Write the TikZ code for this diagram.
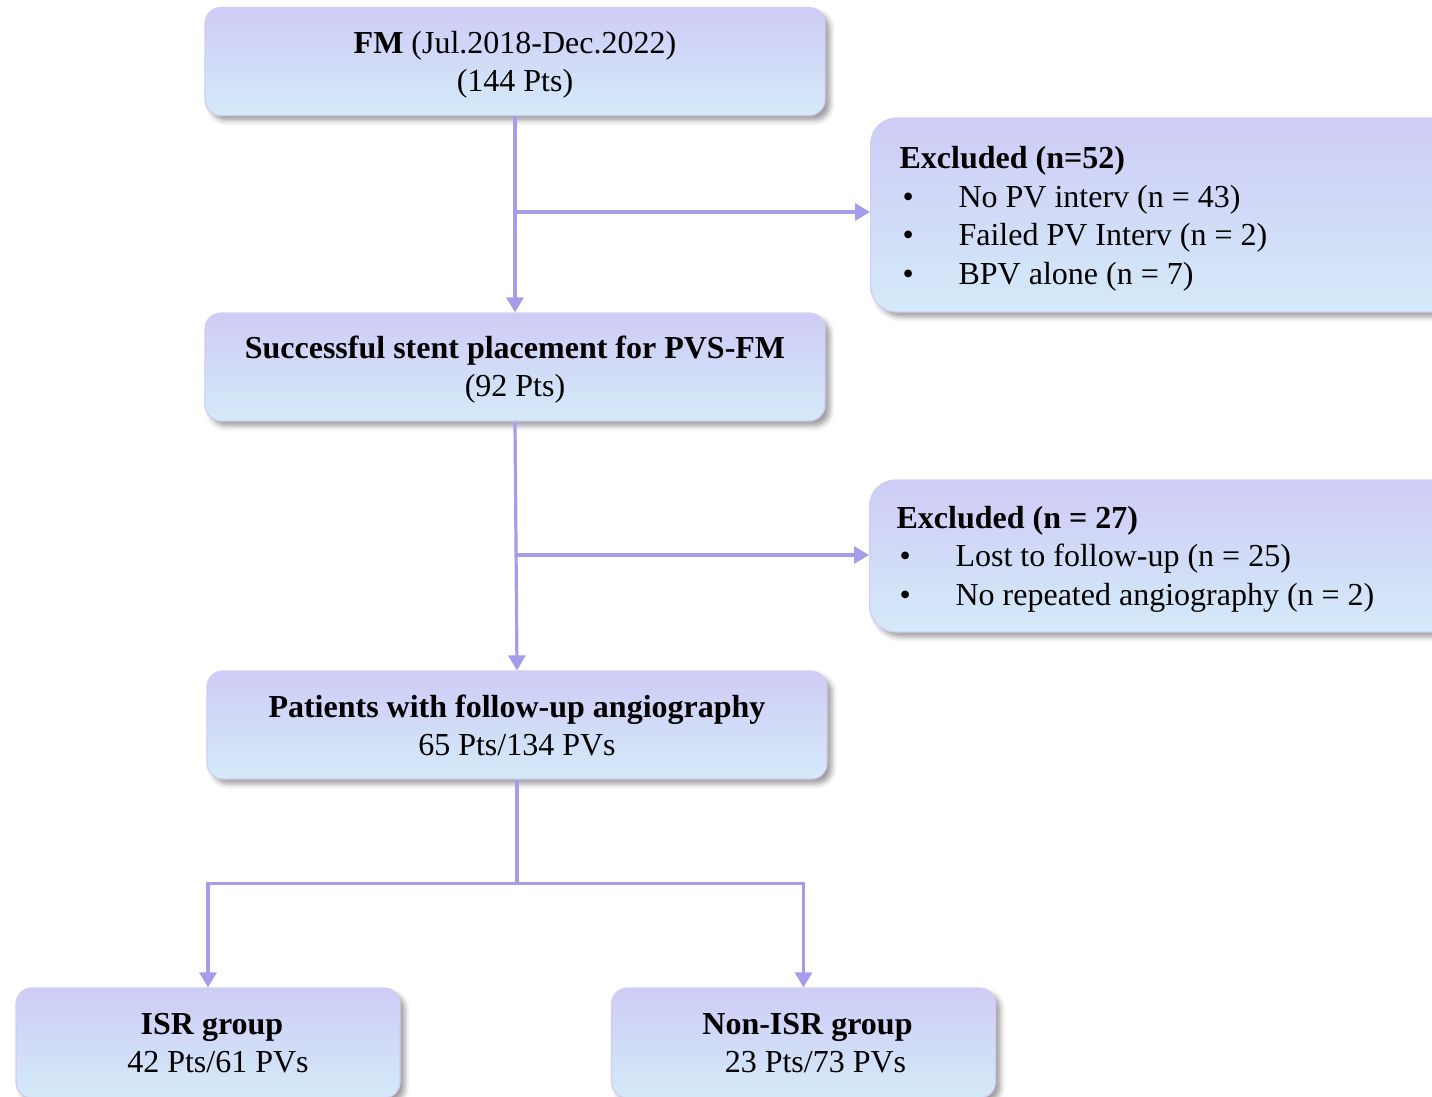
\documentclass[tikz,border=0pt]{standalone}
\usepackage{fontspec}
\setmainfont{Liberation Serif}
\usetikzlibrary{arrows.meta,shadows.blur,calc}
\definecolor{linec}{HTML}{A59DE9}
\definecolor{boxtop}{HTML}{CECCF6}
\definecolor{boxbot}{HTML}{D4EAF8}
\definecolor{boxedge}{HTML}{D2CCF2}
\tikzset{
  box/.style={draw=boxedge, line width=1.2pt, rounded corners=16pt, top color=boxtop, bottom color=boxbot,
    blur shadow={shadow xshift=5pt, shadow yshift=-5pt, shadow blur radius=5pt, shadow opacity=38},
    inner sep=0pt, font=\fontsize{32}{38}\selectfont},
  mainbox/.style={box, align=center, minimum width=620pt, minimum height=108pt},
  grpbox/.style={box, align=center, minimum width=384pt, minimum height=110pt},
  exbox/.style={box, rounded corners=26pt, align=flush left, minimum width=600pt, text width=572pt,
    font=\fontsize{32}{38.6}\selectfont},
  arr/.style={draw=linec, line width=3.2pt, -{Triangle[width=17pt,length=15pt]}},
  ln/.style={draw=linec, line width=3.2pt},
}
\newcommand{\bitem}[1]{\hspace*{3pt}\makebox[56pt][l]{\textbullet}#1}
\newcommand{\fixsp}{\spaceskip=8pt\relax}
\newcommand{\ustrut}[1]{\rule{0pt}{#1}}
\begin{document}
\begin{tikzpicture}[x=1pt,y=-1pt]
\useasboundingbox (0,0) rectangle (1432,1096);
\node[mainbox] (fm) at (515,61.5) {\ustrut{29.6pt}\textbf{FM} (Jul.2018-Dec.2022)\\(144 Pts)};
\node[mainbox] (succ) at (515,367) {\ustrut{28pt}\textbf{Successful stent placement for PVS-FM}\\(92 Pts)};
\node[mainbox] (pat) at (517,725) {\textbf{Patients with follow-up angiography}\\65 Pts/134 PVs};
\node[exbox, minimum height=194pt, inner xsep=29pt, anchor=west] (ex1) at (870,215)
  {\fixsp\ustrut{29.6pt}\textbf{Excluded (n=52)}\\\bitem{No PV interv (n = 43)}\\\bitem{Failed PV Interv (n = 2)}\\\bitem{BPV alone (n = 7)}};
\node[exbox, minimum height=152pt, inner xsep=27pt, anchor=west] (ex2) at (869,556)
  {\fixsp\ustrut{28.6pt}\textbf{Excluded (n = 27)}\\\bitem{Lost to follow-up (n = 25)}\\\bitem{No repeated angiography (n = 2)}};
\node[grpbox] (isr) at (208,1043) {\hspace*{8pt}\textbf{ISR group}\\\hspace*{20pt}42 Pts/61 PVs};
\node[grpbox] (non) at (803.5,1043) {\hspace*{8pt}\textbf{Non-ISR group}\\\hspace*{24pt}23 Pts/73 PVs};
\draw[arr] (fm.south) -- (succ.north);
\coordinate (b1) at (516,212);
\draw[arr] (b1) -- (b1 -| ex1.west);
\draw[arr] (succ.south) -- (pat.north);
\coordinate (b2) at (516,555);
\draw[arr] (b2) -- (b2 -| ex2.west);
\coordinate (split) at ($(pat.south)+(0,104)$);
\draw[ln] (pat.south) -- (split);
\draw[arr] (split) -| (isr.north);
\draw[arr] (split) -| (non.north);
\end{tikzpicture}
\end{document}
